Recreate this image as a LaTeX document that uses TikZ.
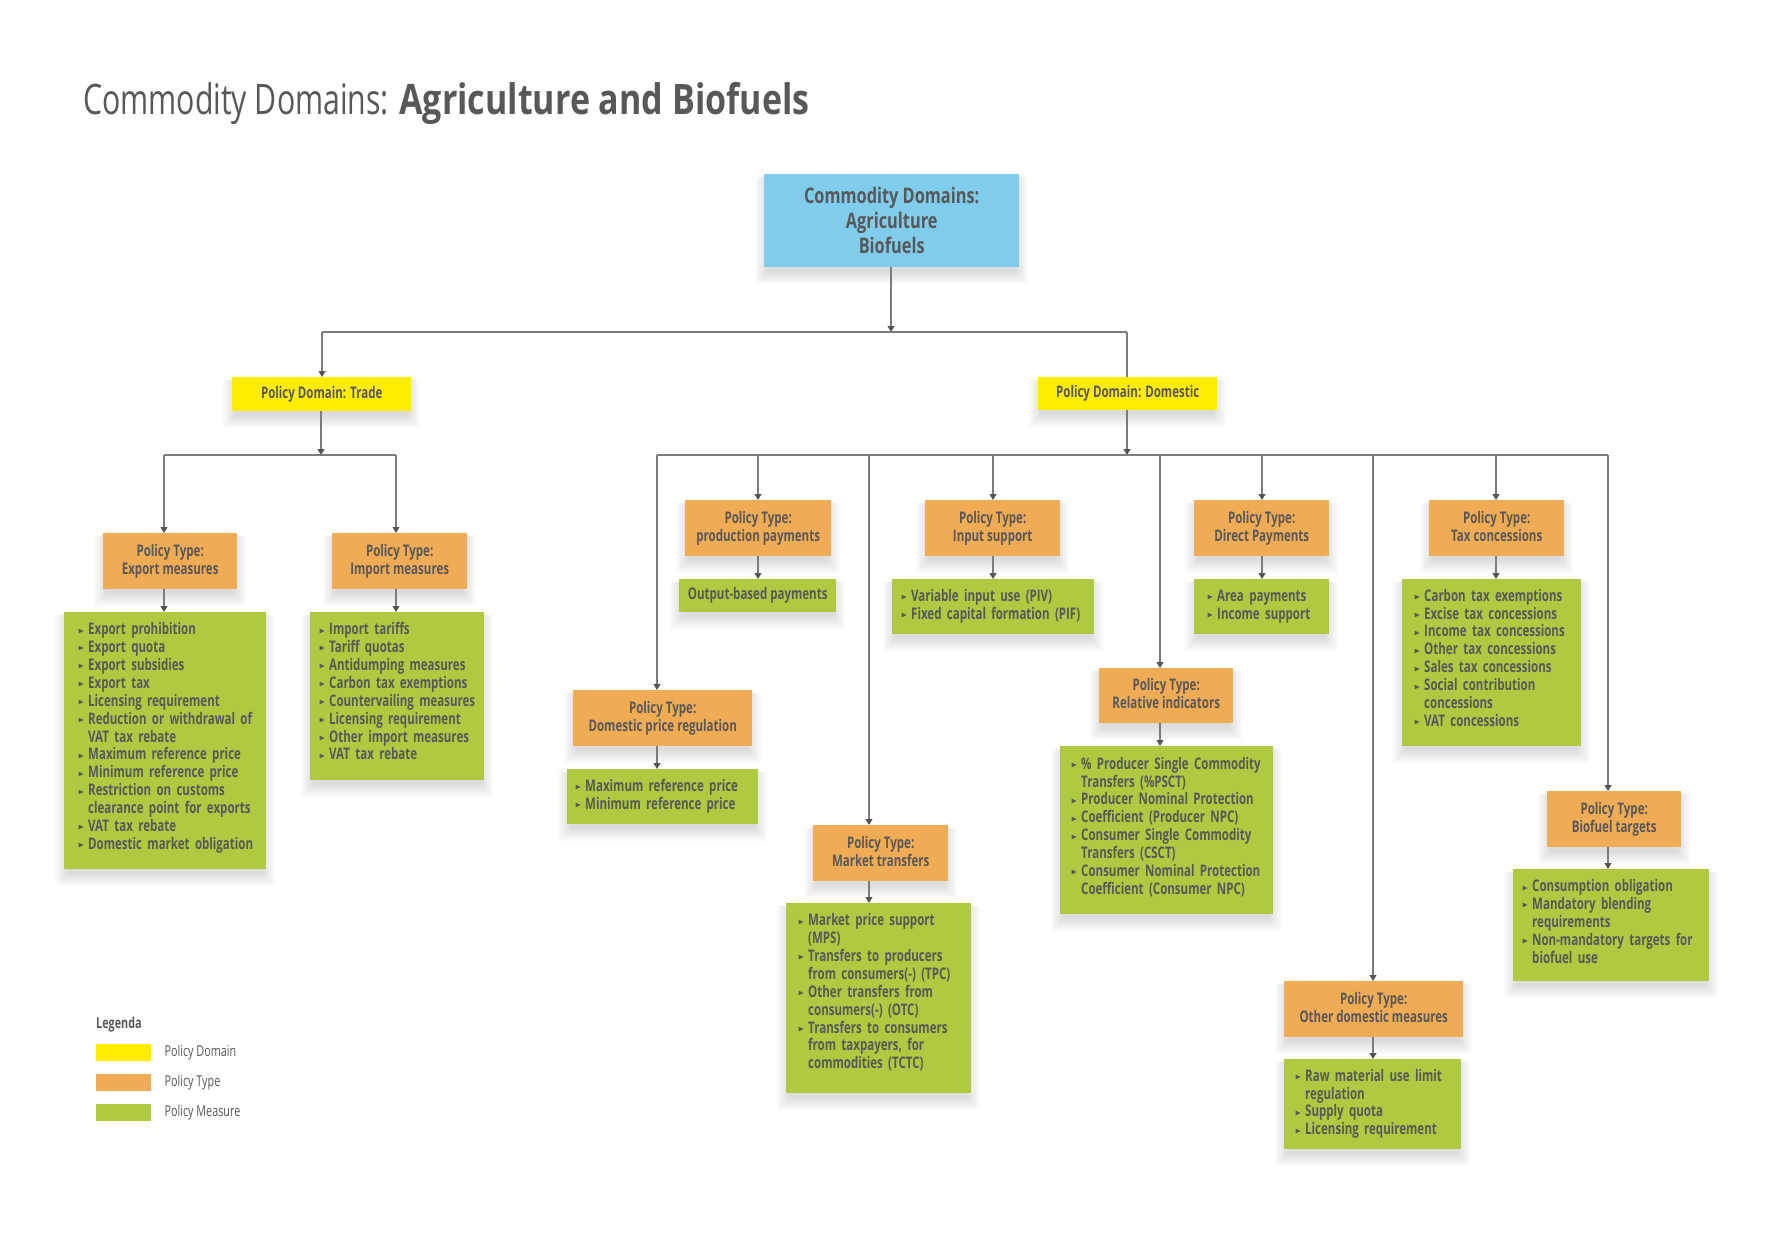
\documentclass[tikz,border=0pt]{standalone}
\usepackage{fontspec}
\usepackage{amssymb}
\setmainfont{Open Sans}[FakeStretch=0.72]
\newfontfamily\lightfont{Open Sans}[FakeStretch=0.72]
\newfontfamily\titlebold{Open Sans}[FakeStretch=0.81]
\newfontfamily\topfont{Open Sans}[FakeStretch=0.76]
\usetikzlibrary{arrows.meta}
\pgfdeclarelayer{background}
\pgfsetlayers{background,main}
\definecolor{txt}{HTML}{58585A}
\definecolor{cblue}{HTML}{7FCDEB}
\definecolor{cyel}{HTML}{FFED00}
\definecolor{corg}{HTML}{F0AC55}
\definecolor{cgrn}{HTML}{AFCA40}
\definecolor{cline}{HTML}{7C7C7C}
\definecolor{ctip}{HTML}{555555}
\newcommand\bul{\makebox[10pt][l]{\raisebox{1.6pt}{\scalebox{0.5}{$\blacktriangleright$}}}}
\newcommand\itm{\par\noindent\hangindent=10pt\hangafter=1\rule{0pt}{13pt}\bul}
\newcommand\shadowof[1]{\begin{pgfonlayer}{background}\foreach \e in {0,2,...,12}{\fill[black,opacity=0.02] ([xshift={(3-\e)*1pt},yshift=-3pt]#1.north west) rectangle ([xshift={(\e-3)*1pt},yshift={(-5-\e)*1pt}]#1.south east);}\end{pgfonlayer}}
\tikzset{
  bx/.style={rectangle, inner sep=0pt, anchor=north west, text=txt, align=center},
  obox/.style={bx, fill=corg, font=\bfseries\fontsize{16}{18}\selectfont, execute at end node={\vphantom{g}}},
  ybox/.style={bx, fill=cyel, font=\bfseries\fontsize{16}{18}\selectfont},
  gbox/.style={bx, fill=cgrn},
  gtxt/.style={anchor=north west, inner sep=0pt, text=txt, align=left, font=\bfseries\fontsize{16}{17.9}\selectfont},
  conn/.style={draw=cline, line width=1.1pt},
  arr/.style={conn, -{Triangle[width=7pt,length=6pt,color=ctip]}},
  swatch/.style={rectangle, inner sep=0pt, anchor=north west, minimum width=55pt, minimum height=17pt},
  legtxt/.style={anchor=west, inner sep=0pt, text=txt, font=\lightfont\fontsize{15}{18}\selectfont}
}
\begin{document}
\begin{tikzpicture}[x=1pt,y=-1pt]
\begin{pgfonlayer}{background}
\fill[white] (0,0) rectangle (1774,1236);
\end{pgfonlayer}
\useasboundingbox (0,0) rectangle (1774,1236);

% title
\node[anchor=base west, inner sep=0pt, text=txt] (title) at (83,115)
  {\fontsize{42}{48}\selectfont{\lightfont Commodity Domains:} {\titlebold\bfseries Agriculture and Biofuels}};

% top
\node[bx, fill=cblue, minimum width=255pt, minimum height=93pt, font=\topfont\bfseries\fontsize{21.5}{25}\selectfont] (top) at (764,174) {Commodity Domains:\\Agriculture\\Biofuels};
\node[ybox, minimum width=179pt, minimum height=34pt] (trade) at (232,377) {Policy Domain: Trade};
\node[ybox, minimum width=179pt, minimum height=33pt] (dom) at (1038,377) {Policy Domain: Domestic};

% trade types
\node[obox, minimum width=134pt, minimum height=56pt] (exp) at (103,533) {Policy Type:\\Export measures};
\node[obox, minimum width=135pt, minimum height=56pt] (imp) at (332,533) {Policy Type:\\Import measures};
\node[gbox, minimum width=202pt, minimum height=257pt] (expg) at (64,612) {};
\node[gbox, minimum width=174pt, minimum height=168pt] (impg) at (310,612) {};

% domestic types
\node[obox, minimum width=146pt, minimum height=56pt] (prod) at (685,500) {Policy Type:\\production payments};
\node[gbox, minimum width=157pt, minimum height=33pt, font=\bfseries\fontsize{16}{18}\selectfont] (prodg) at (679,579) {Output-based payments};
\node[obox, minimum width=135pt, minimum height=56pt] (inp) at (925,500) {Policy Type:\\Input support};
\node[gbox, minimum width=202pt, minimum height=55pt] (inpg) at (892,579) {};
\node[obox, minimum width=135pt, minimum height=56pt] (dir) at (1194,500) {Policy Type:\\Direct Payments};
\node[gbox, minimum width=135pt, minimum height=55pt] (dirg) at (1194,579) {};
\node[obox, minimum width=135pt, minimum height=56pt] (tax) at (1429,500) {Policy Type:\\Tax concessions};
\node[gbox, minimum width=179pt, minimum height=167pt] (taxg) at (1402,579) {};
\node[obox, minimum width=179pt, minimum height=56pt] (dpr) at (573,690) {Policy Type:\\Domestic price regulation};
\node[gbox, minimum width=191pt, minimum height=55pt] (dprg) at (567,769) {};
\node[obox, minimum width=134pt, minimum height=55pt] (rel) at (1099,668) {Policy Type:\\Relative indicators};
\node[gbox, minimum width=213pt, minimum height=168pt] (relg) at (1060,746) {};
\node[obox, minimum width=135pt, minimum height=56pt] (mkt) at (813,825) {Policy Type:\\Market transfers};
\node[gbox, minimum width=185pt, minimum height=190pt] (mktg) at (786,903) {};
\node[obox, minimum width=134pt, minimum height=56pt] (bio) at (1547,791) {Policy Type:\\Biofuel targets};
\node[gbox, minimum width=196pt, minimum height=112pt] (biog) at (1513,869) {};
\node[obox, minimum width=179pt, minimum height=56pt] (oth) at (1284,981) {Policy Type:\\Other domestic measures};
\node[gbox, minimum width=177pt, minimum height=90pt] (othg) at (1284,1059) {};

% shadows
\foreach \n in {top,trade,dom,exp,imp,expg,impg,prod,prodg,inp,inpg,dir,dirg,tax,taxg,dpr,dprg,rel,relg,mkt,mktg,bio,biog,oth,othg}{\shadowof{\n}}

% green texts
\node[gtxt, text width=186pt] (expg-t) at ([xshift=14pt,yshift=-4.5pt]expg.north west) {%
\itm Export prohibition
\itm Export quota
\itm Export subsidies
\itm Export tax
\itm Licensing requirement
\itm Reduction or withdrawal of\newline VAT tax rebate
\itm Maximum reference price
\itm Minimum reference price
\itm Restriction on customs\newline clearance point for exports
\itm VAT tax rebate
\itm Domestic market obligation\par};
\node[gtxt, text width=164pt] (impg-t) at ([xshift=9pt,yshift=-4.5pt]impg.north west) {%
\itm Import tariffs
\itm Tariff quotas
\itm Antidumping measures
\itm Carbon tax exemptions
\itm Countervailing measures
\itm Licensing requirement
\itm Other import measures
\itm VAT tax rebate\par};
\node[gtxt, text width=192pt] (inpg-t) at ([xshift=9pt,yshift=-4pt]inpg.north west) {%
\itm Variable input use (PIV)
\itm Fixed capital formation (PIF)\par};
\node[gtxt, text width=122pt] (dirg-t) at ([xshift=13pt,yshift=-4pt]dirg.north west) {%
\itm Area payments
\itm Income support\par};
\node[gtxt, text width=166pt] (taxg-t) at ([xshift=12pt,yshift=-4pt]taxg.north west) {%
\itm Carbon tax exemptions
\itm Excise tax concessions
\itm Income tax concessions
\itm Other tax concessions
\itm Sales tax concessions
\itm Social contribution\newline concessions
\itm VAT concessions\par};
\node[gtxt, text width=182pt] (dprg-t) at ([xshift=8pt,yshift=-4pt]dprg.north west) {%
\itm Maximum reference price
\itm Minimum reference price\par};
\node[gtxt, text width=172pt] (mktg-t) at ([xshift=12pt,yshift=-4.5pt]mktg.north west) {%
\itm Market price support\newline (MPS)
\itm Transfers to producers\newline from consumers(-) (TPC)
\itm Other transfers from\newline consumers(-) (OTC)
\itm Transfers to consumers\newline from taxpayers, for\newline commodities (TCTC)\par};
\node[gtxt, text width=201pt] (relg-t) at ([xshift=11pt,yshift=-5pt]relg.north west) {%
\itm \% Producer Single Commodity\newline Transfers (\%PSCT)
\itm Producer Nominal Protection
\itm Coefficient (Producer NPC)
\itm Consumer Single Commodity\newline Transfers (CSCT)
\itm Consumer Nominal Protection\newline Coefficient (Consumer NPC)\par};
\node[gtxt, text width=186pt] (biog-t) at ([xshift=9pt,yshift=-4.5pt]biog.north west) {%
\itm Consumption obligation
\itm Mandatory blending\newline requirements
\itm Non-mandatory targets for\newline biofuel use\par};
\node[gtxt, text width=165pt] (othg-t) at ([xshift=11pt,yshift=-4pt]othg.north west) {%
\itm Raw material use limit\newline regulation
\itm Supply quota
\itm Licensing requirement\par};

% connectors: top level
\coordinate (tb-l) at (322,332);
\coordinate (tb-m) at (891,332);
\coordinate (tb-r) at (1127,332);
\draw[arr] (top.south -| tb-m) -- (tb-m);
\draw[conn] (tb-l) -- (tb-r);
\draw[arr] (tb-l) -- (tb-l |- trade.north);
\draw[conn] (tb-r) -- (tb-r |- dom.north);

% trade bar
\coordinate (jb-ex) at (164,455);
\coordinate (jb-tr) at (321,455);
\coordinate (jb-im) at (396,455);
\draw[arr] (trade.south -| jb-tr) -- (jb-tr);
\draw[conn] (jb-ex) -- (jb-im);
\draw[arr] (jb-ex) -- (jb-ex |- exp.north);
\draw[arr] (jb-im) -- (jb-im |- imp.north);
\draw[arr] (jb-ex |- exp.south) -- (jb-ex |- expg.north);
\draw[arr] (jb-im |- imp.south) -- (jb-im |- impg.north);

% domestic bar
\coordinate (jd-dp) at (657,455);
\coordinate (jd-pr) at (758,455);
\coordinate (jd-mk) at (869,455);
\coordinate (jd-in) at (993,455);
\coordinate (jd-dm) at (1127,455);
\coordinate (jd-re) at (1160,455);
\coordinate (jd-di) at (1262,455);
\coordinate (jd-ot) at (1373,455);
\coordinate (jd-tx) at (1496,455);
\coordinate (jd-bi) at (1608,455);
\draw[arr] (dom.south -| jd-dm) -- (jd-dm);
\draw[conn] (jd-dp) -- (jd-bi);
\foreach \j/\a/\b in {dp/dpr/dprg, pr/prod/prodg, mk/mkt/mktg, in/inp/inpg, re/rel/relg, di/dir/dirg, ot/oth/othg, tx/tax/taxg, bi/bio/biog}{
  \draw[arr] (jd-\j) -- (jd-\j |- \a.north);
  \draw[arr] (jd-\j |- \a.south) -- (jd-\j |- \b.north);
}

% legend
\node[anchor=base west, inner sep=0pt, text=txt, font=\bfseries\fontsize{15}{18}\selectfont] (leg) at (96,1028) {Legenda};
\node[swatch, fill=cyel] (sw1) at (96,1044) {};
\node[swatch, fill=corg] (sw2) at (96,1074) {};
\node[swatch, fill=cgrn] (sw3) at (96,1104) {};
\node[legtxt] (l1) at ([xshift=13pt]sw1.east) {Policy Domain};
\node[legtxt] (l2) at ([xshift=13pt]sw2.east) {Policy Type};
\node[legtxt] (l3) at ([xshift=13pt]sw3.east) {Policy Measure};
\end{tikzpicture}
\end{document}
